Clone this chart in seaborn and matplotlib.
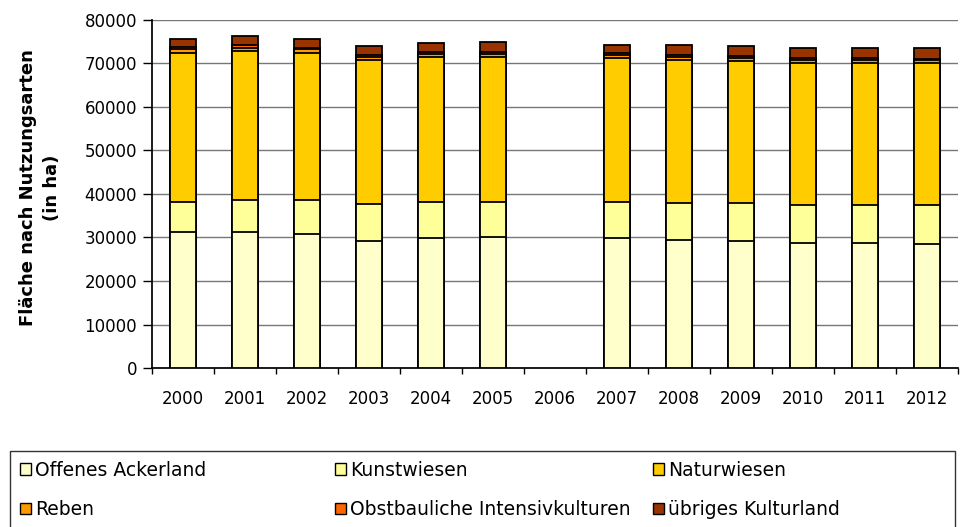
import numpy as np
import pandas as pd
import matplotlib
matplotlib.use("Agg")
import matplotlib.pyplot as plt
from matplotlib.patches import Patch, Rectangle
from matplotlib.ticker import FixedLocator
import seaborn as sns

# Daten (ha), 2006 fehlt
jahre = ["2000", "2001", "2002", "2003", "2004", "2005", "2006",
         "2007", "2008", "2009", "2010", "2011", "2012"]
offenes_ackerland = [31200, 31200, 30900, 29200, 29900, 30200, np.nan,
                     29900, 29500, 29200, 28800, 28800, 28500]
kunstwiesen = [7030, 7420, 7750, 8430, 8340, 8040, np.nan,
               8340, 8360, 8660, 8740, 8740, 9040]
naturwiesen = [34250, 34250, 33860, 33170, 33260, 33260, np.nan,
               32960, 32940, 32640, 32640, 32640, 32640]
reben = [800, 800, 750, 750, 700, 700, np.nan,
         700, 700, 700, 700, 700, 650]
obstbau = [450, 580, 400, 480, 450, 450, np.nan,
           450, 530, 520, 450, 450, 270]
uebriges = [1910, 2150, 2000, 1990, 2000, 2300, np.nan,
            1990, 2300, 2300, 2220, 2220, 2450]

serien = ["Offenes Ackerland", "Kunstwiesen", "Naturwiesen",
          "Reben", "Obstbauliche Intensivkulturen", "übriges Kulturland"]
farben = ["#FFFFCC", "#FFFF99", "#FFCC00", "#FF9900", "#FF6600", "#993300"]

df = pd.DataFrame({
    "Jahr": jahre,
    serien[0]: offenes_ackerland,
    serien[1]: kunstwiesen,
    serien[2]: naturwiesen,
    serien[3]: reben,
    serien[4]: obstbau,
    serien[5]: uebriges,
})
kum = df[serien].cumsum(axis=1)

sns.set_theme(style="white")
plt.rcParams["font.family"] = ["DejaVu Sans"]
for k in ["text.color", "axes.labelcolor", "xtick.color", "ytick.color"]:
    plt.rcParams[k] = "black"

fig = plt.figure(figsize=(9.61, 5.27), dpi=100)
ax = fig.add_axes([152 / 961, 1 - 368 / 527, 806 / 961, 348 / 527])

# gestapelt: von oben nach unten ueberlagern
for name, farbe in reversed(list(zip(serien, farben))):
    sns.barplot(x=df["Jahr"], y=kum[name], order=jahre, color=farbe,
                width=0.42, edgecolor="black", linewidth=1.3,
                saturation=1, ax=ax, zorder=3)

ax.set_ylim(0, 80000)
ax.set_xlim(-0.5, len(jahre) - 0.5)
ax.set_yticks(range(0, 80001, 10000))
ax.yaxis.grid(True, color="#777777", linewidth=1, zorder=0)
ax.set_axisbelow(True)
for s in ["top", "right"]:
    ax.spines[s].set_visible(False)
ax.spines["left"].set_color("black")
ax.spines["bottom"].set_color("black")

ax.tick_params(axis="y", which="major", direction="out", length=6.5,
               width=1, labelsize=12, pad=4.3, left=True)
ax.tick_params(axis="x", which="major", length=0, labelsize=12, pad=16)
ax.xaxis.set_minor_locator(FixedLocator(np.arange(-0.5, len(jahre), 1)))
ax.tick_params(axis="x", which="minor", direction="out", length=4.5,
               width=1, bottom=True)

ax.set_xlabel("")
ax.set_ylabel("Fläche nach Nutzungsarten\n(in ha)", fontsize=13,
              fontweight="bold", linespacing=1.45)
ax.yaxis.set_label_coords((61 - 152) / 806, (368 - 187.5) / 348)

# Legende: Rahmen + drei Spalten
fig.patches.append(Rectangle((10 / 961, -0.05), 945 / 961, 0.05 + 76 / 527,
                             transform=fig.transFigure, fill=False,
                             edgecolor="#333333", linewidth=1))
spalten = [(20, [0, 3]), (335, [1, 4]), (653, [2, 5])]
for x0, idx in spalten:
    h = [Patch(facecolor=farben[i], edgecolor="black", linewidth=1,
               label=serien[i]) for i in idx]
    fig.legend(handles=h, loc="center left",
               bbox_to_anchor=(x0 / 961, 1 - 490 / 527), fontsize=13.5,
               frameon=False, handlelength=0.6, handleheight=0.6,
               handletextpad=0.22, labelspacing=1.08, borderpad=0,
               borderaxespad=0)

fig.savefig("out.png", dpi=100)
